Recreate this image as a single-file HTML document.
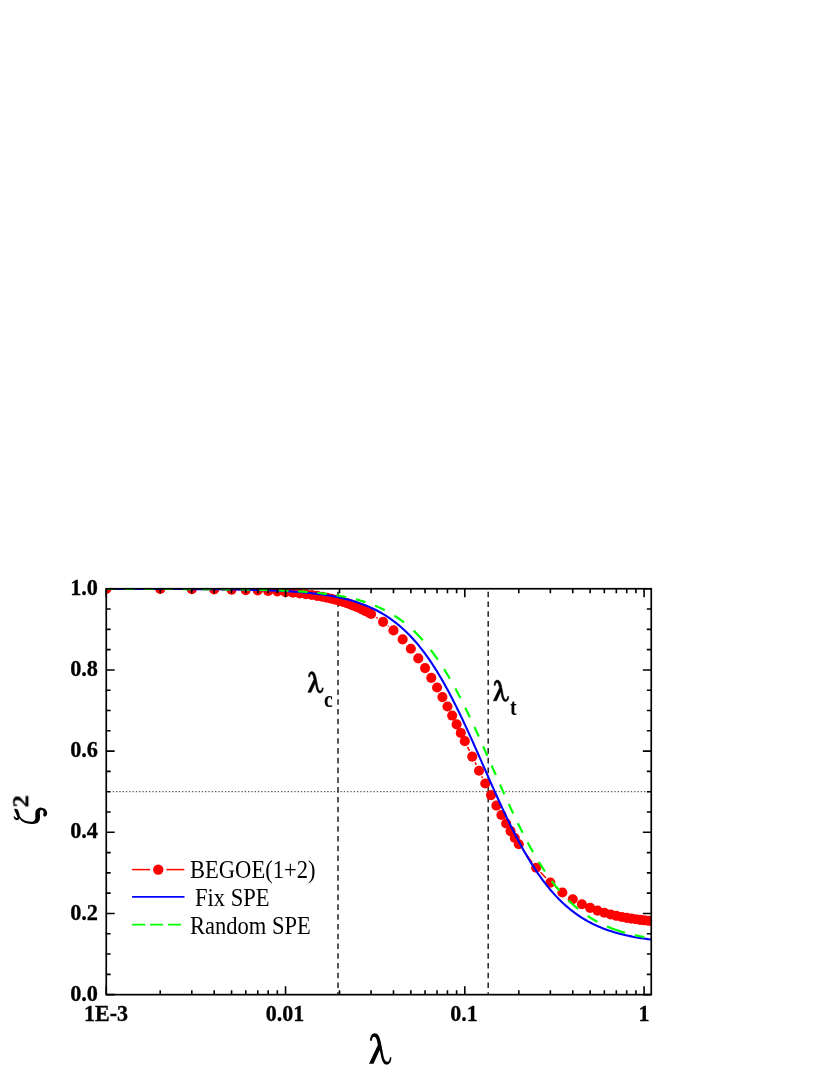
<!DOCTYPE html><html><head><meta charset="utf-8"><title>chart</title><style>
html,body{margin:0;padding:0;background:#fff;}
body{width:830px;height:1075px;position:relative;overflow:hidden;font-family:"Liberation Serif",serif;color:#000;}
.t{position:absolute;white-space:nowrap;line-height:1;will-change:transform;}
.yl{font-weight:bold;font-size:22.3px;text-align:right;width:60px;left:37.6px;transform:scaleY(1.06);transform-origin:50% 50%;-webkit-text-stroke:0.3px #000;}
.xl{font-weight:bold;font-size:22.0px;text-align:center;width:80px;transform:scaleY(1.09);transform-origin:50% 50%;-webkit-text-stroke:0.3px #000;}
.lg{font-size:22.55px;transform:scaleY(1.08);transform-origin:0 50%;}
.sb{font-weight:bold;font-size:19.8px;transform:scaleY(1.12);transform-origin:0 50%;}
</style></head><body>
<svg width="830" height="1075" viewBox="0 0 830 1075" style="position:absolute;left:0;top:0">
<defs><clipPath id="cp"><rect x="106.25" y="588.75" width="545.00" height="405.90"/></clipPath></defs>
<line x1="112.70" y1="791.70" x2="651.25" y2="791.70" stroke="#3a3a3a" stroke-width="1" stroke-dasharray="1.4 1.9"/>
<line x1="338.00" y1="588.75" x2="338.00" y2="994.65" stroke="#222" stroke-width="1.5" stroke-dasharray="5.6 4.17" stroke-dashoffset="6.8"/>
<line x1="488.20" y1="588.75" x2="488.20" y2="994.65" stroke="#222" stroke-width="1.5" stroke-dasharray="5.6 4.17" stroke-dashoffset="6.8"/>
<g clip-path="url(#cp)">
<line x1="112.61" y1="588.95" x2="153.88" y2="589.03" stroke="#f00" stroke-width="1.5"/>
<line x1="166.58" y1="589.08" x2="185.45" y2="589.18" stroke="#f00" stroke-width="1.5"/>
<line x1="198.15" y1="589.28" x2="207.85" y2="589.38" stroke="#f00" stroke-width="1.5"/>
<line x1="220.55" y1="589.56" x2="225.22" y2="589.64" stroke="#f00" stroke-width="1.5"/>
<line x1="237.92" y1="589.91" x2="239.42" y2="589.94" stroke="#f00" stroke-width="1.5"/>
<line x1="376.39" y1="617.48" x2="377.77" y2="618.38" stroke="#f00" stroke-width="1.5"/>
<line x1="387.99" y1="625.89" x2="388.56" y2="626.35" stroke="#f00" stroke-width="1.5"/>
<line x1="467.57" y1="746.88" x2="469.49" y2="750.87" stroke="#f00" stroke-width="1.5"/>
<line x1="474.99" y1="762.32" x2="476.27" y2="764.98" stroke="#f00" stroke-width="1.5"/>
<line x1="481.79" y1="776.41" x2="482.47" y2="777.80" stroke="#f00" stroke-width="1.5"/>
<line x1="522.57" y1="849.39" x2="532.38" y2="862.64" stroke="#f00" stroke-width="1.5"/>
<line x1="540.55" y1="872.34" x2="545.97" y2="878.02" stroke="#f00" stroke-width="1.5"/>
<line x1="555.26" y1="886.64" x2="557.45" y2="888.44" stroke="#f00" stroke-width="1.5"/>
<circle cx="106.26" cy="588.94" r="5.05" fill="#f00"/>
<circle cx="160.23" cy="589.04" r="5.05" fill="#f00"/>
<circle cx="191.80" cy="589.22" r="5.05" fill="#f00"/>
<circle cx="214.20" cy="589.45" r="5.05" fill="#f00"/>
<circle cx="231.57" cy="589.75" r="5.05" fill="#f00"/>
<circle cx="245.77" cy="590.10" r="5.05" fill="#f00"/>
<circle cx="257.77" cy="590.52" r="5.05" fill="#f00"/>
<circle cx="268.17" cy="590.99" r="5.05" fill="#f00"/>
<circle cx="277.34" cy="591.52" r="5.05" fill="#f00"/>
<circle cx="285.54" cy="592.11" r="5.05" fill="#f00"/>
<circle cx="292.96" cy="592.75" r="5.05" fill="#f00"/>
<circle cx="299.74" cy="593.45" r="5.05" fill="#f00"/>
<circle cx="305.97" cy="594.20" r="5.05" fill="#f00"/>
<circle cx="311.74" cy="595.00" r="5.05" fill="#f00"/>
<circle cx="317.11" cy="595.85" r="5.05" fill="#f00"/>
<circle cx="322.13" cy="596.75" r="5.05" fill="#f00"/>
<circle cx="326.85" cy="597.71" r="5.05" fill="#f00"/>
<circle cx="331.31" cy="598.71" r="5.05" fill="#f00"/>
<circle cx="335.51" cy="599.75" r="5.05" fill="#f00"/>
<circle cx="339.51" cy="600.84" r="5.05" fill="#f00"/>
<circle cx="343.31" cy="601.98" r="5.05" fill="#f00"/>
<circle cx="346.93" cy="603.16" r="5.05" fill="#f00"/>
<circle cx="350.39" cy="604.38" r="5.05" fill="#f00"/>
<circle cx="353.70" cy="605.64" r="5.05" fill="#f00"/>
<circle cx="356.88" cy="606.94" r="5.05" fill="#f00"/>
<circle cx="359.94" cy="608.28" r="5.05" fill="#f00"/>
<circle cx="362.87" cy="609.66" r="5.05" fill="#f00"/>
<circle cx="365.71" cy="611.07" r="5.05" fill="#f00"/>
<circle cx="368.44" cy="612.52" r="5.05" fill="#f00"/>
<circle cx="371.08" cy="614.00" r="5.05" fill="#f00"/>
<circle cx="383.08" cy="621.86" r="5.05" fill="#f00"/>
<circle cx="393.48" cy="630.38" r="5.05" fill="#f00"/>
<circle cx="402.65" cy="639.39" r="5.05" fill="#f00"/>
<circle cx="410.85" cy="648.77" r="5.05" fill="#f00"/>
<circle cx="418.27" cy="658.38" r="5.05" fill="#f00"/>
<circle cx="425.05" cy="668.12" r="5.05" fill="#f00"/>
<circle cx="431.28" cy="677.87" r="5.05" fill="#f00"/>
<circle cx="437.05" cy="687.55" r="5.05" fill="#f00"/>
<circle cx="442.42" cy="697.10" r="5.05" fill="#f00"/>
<circle cx="447.45" cy="706.46" r="5.05" fill="#f00"/>
<circle cx="452.17" cy="715.57" r="5.05" fill="#f00"/>
<circle cx="456.62" cy="724.40" r="5.05" fill="#f00"/>
<circle cx="460.83" cy="732.94" r="5.05" fill="#f00"/>
<circle cx="464.82" cy="741.15" r="5.05" fill="#f00"/>
<circle cx="472.24" cy="756.60" r="5.05" fill="#f00"/>
<circle cx="479.02" cy="770.70" r="5.05" fill="#f00"/>
<circle cx="485.25" cy="783.51" r="5.05" fill="#f00"/>
<circle cx="491.02" cy="795.10" r="5.05" fill="#f00"/>
<circle cx="496.39" cy="805.56" r="5.05" fill="#f00"/>
<circle cx="501.41" cy="814.99" r="5.05" fill="#f00"/>
<circle cx="506.13" cy="823.48" r="5.05" fill="#f00"/>
<circle cx="510.59" cy="831.14" r="5.05" fill="#f00"/>
<circle cx="514.79" cy="838.04" r="5.05" fill="#f00"/>
<circle cx="518.79" cy="844.28" r="5.05" fill="#f00"/>
<circle cx="536.16" cy="867.75" r="5.05" fill="#f00"/>
<circle cx="550.36" cy="882.61" r="5.05" fill="#f00"/>
<circle cx="562.36" cy="892.47" r="5.05" fill="#f00"/>
<circle cx="572.76" cy="899.30" r="5.05" fill="#f00"/>
<circle cx="581.93" cy="904.21" r="5.05" fill="#f00"/>
<circle cx="590.13" cy="907.84" r="5.05" fill="#f00"/>
<circle cx="597.55" cy="910.60" r="5.05" fill="#f00"/>
<circle cx="604.33" cy="912.75" r="5.05" fill="#f00"/>
<circle cx="610.56" cy="914.44" r="5.05" fill="#f00"/>
<circle cx="616.33" cy="915.81" r="5.05" fill="#f00"/>
<circle cx="621.70" cy="916.93" r="5.05" fill="#f00"/>
<circle cx="626.73" cy="917.85" r="5.05" fill="#f00"/>
<circle cx="631.45" cy="918.62" r="5.05" fill="#f00"/>
<circle cx="635.90" cy="919.28" r="5.05" fill="#f00"/>
<circle cx="640.11" cy="919.83" r="5.05" fill="#f00"/>
<circle cx="644.10" cy="920.31" r="5.05" fill="#f00"/>
<circle cx="647.90" cy="920.73" r="5.05" fill="#f00"/>
<circle cx="651.52" cy="921.09" r="5.05" fill="#f00"/>
<path d="M106.00 588.92 L107.37 588.92 L108.74 588.92 L110.10 588.92 L111.47 588.93 L112.84 588.93 L114.21 588.93 L115.57 588.93 L116.94 588.93 L118.31 588.93 L119.68 588.93 L121.05 588.93 L122.41 588.93 L123.78 588.94 L125.15 588.94 L126.52 588.94 L127.88 588.94 L129.25 588.94 L130.62 588.94 L131.99 588.94 L133.36 588.95 L134.72 588.95 L136.09 588.95 L137.46 588.95 L138.83 588.95 L140.19 588.95 L141.56 588.96 L142.93 588.96 L144.30 588.96 L145.67 588.96 L147.03 588.96 L148.40 588.97 L149.77 588.97 L151.14 588.97 L152.51 588.97 L153.87 588.98 L155.24 588.98 L156.61 588.98 L157.98 588.98 L159.34 588.99 L160.71 588.99 L162.08 588.99 L163.45 589.00 L164.82 589.00 L166.18 589.00 L167.55 589.01 L168.92 589.01 L170.29 589.02 L171.65 589.02 L173.02 589.02 L174.39 589.03 L175.76 589.03 L177.13 589.04 L178.49 589.04 L179.86 589.05 L181.23 589.05 L182.60 589.06 L183.96 589.06 L185.33 589.07 L186.70 589.08 L188.07 589.08 L189.44 589.09 L190.80 589.10 L192.17 589.10 L193.54 589.11 L194.91 589.12 L196.27 589.13 L197.64 589.13 L199.01 589.14 L200.38 589.15 L201.75 589.16 L203.11 589.17 L204.48 589.18 L205.85 589.19 L207.22 589.20 L208.58 589.21 L209.95 589.22 L211.32 589.23 L212.69 589.24 L214.06 589.26 L215.42 589.27 L216.79 589.28 L218.16 589.30 L219.53 589.31 L220.89 589.32 L222.26 589.34 L223.63 589.35 L225.00 589.37 L226.37 589.39 L227.73 589.40 L229.10 589.42 L230.47 589.44 L231.84 589.46 L233.20 589.48 L234.57 589.50 L235.94 589.52 L237.31 589.54 L238.68 589.57 L240.04 589.59 L241.41 589.62 L242.78 589.64 L244.15 589.67 L245.52 589.70 L246.88 589.72 L248.25 589.75 L249.62 589.78 L250.99 589.81 L252.35 589.85 L253.72 589.88 L255.09 589.92 L256.46 589.95 L257.83 589.99 L259.19 590.03 L260.56 590.07 L261.93 590.11 L263.30 590.15 L264.66 590.20 L266.03 590.24 L267.40 590.29 L268.77 590.34 L270.14 590.39 L271.50 590.44 L272.87 590.50 L274.24 590.56 L275.61 590.61 L276.97 590.68 L278.34 590.74 L279.71 590.80 L281.08 590.87 L282.45 590.94 L283.81 591.01 L285.18 591.09 L286.55 591.17 L287.92 591.25 L289.28 591.33 L290.65 591.41 L292.02 591.50 L293.39 591.60 L294.76 591.69 L296.12 591.79 L297.49 591.89 L298.86 592.00 L300.23 592.11 L301.59 592.22 L302.96 592.34 L304.33 592.46 L305.70 592.58 L307.07 592.71 L308.43 592.85 L309.80 592.99 L311.17 593.13 L312.54 593.28 L313.90 593.44 L315.27 593.59 L316.64 593.76 L318.01 593.93 L319.38 594.11 L320.74 594.29 L322.11 594.48 L323.48 594.67 L324.85 594.88 L326.21 595.09 L327.58 595.30 L328.95 595.53 L330.32 595.76 L331.69 596.00 L333.05 596.25 L334.42 596.50 L335.79 596.77 L337.16 597.04 L338.53 597.33 L339.89 597.62 L341.26 597.92 L342.63 598.23 L344.00 598.56 L345.36 598.89 L346.73 599.24 L348.10 599.60 L349.47 599.97 L350.84 600.35 L352.20 600.74 L353.57 601.15 L354.94 601.57 L356.31 602.01 L357.67 602.45 L359.04 602.92 L360.41 603.40 L361.78 603.89 L363.15 604.40 L364.51 604.93 L365.88 605.48 L367.25 606.04 L368.62 606.62 L369.98 607.22 L371.35 607.84 L372.72 608.48 L374.09 609.13 L375.46 609.81 L376.82 610.51 L378.19 611.24 L379.56 611.98 L380.93 612.75 L382.29 613.54 L383.66 614.35 L385.03 615.19 L386.40 616.06 L387.77 616.95 L389.13 617.87 L390.50 618.82 L391.87 619.79 L393.24 620.79 L394.60 621.82 L395.97 622.89 L397.34 623.98 L398.71 625.10 L400.08 626.26 L401.44 627.44 L402.81 628.66 L404.18 629.92 L405.55 631.21 L406.91 632.53 L408.28 633.89 L409.65 635.28 L411.02 636.71 L412.39 638.18 L413.75 639.69 L415.12 641.23 L416.49 642.81 L417.86 644.44 L419.22 646.10 L420.59 647.80 L421.96 649.54 L423.33 651.32 L424.70 653.15 L426.06 655.01 L427.43 656.92 L428.80 658.86 L430.17 660.85 L431.54 662.88 L432.90 664.96 L434.27 667.07 L435.64 669.23 L437.01 671.43 L438.37 673.67 L439.74 675.95 L441.11 678.27 L442.48 680.64 L443.85 683.04 L445.21 685.49 L446.58 687.97 L447.95 690.49 L449.32 693.05 L450.68 695.65 L452.05 698.28 L453.42 700.95 L454.79 703.66 L456.16 706.40 L457.52 709.17 L458.89 711.97 L460.26 714.81 L461.63 717.67 L462.99 720.56 L464.36 723.48 L465.73 726.42 L467.10 729.38 L468.47 732.37 L469.83 735.38 L471.20 738.40 L472.57 741.44 L473.94 744.50 L475.30 747.57 L476.67 750.65 L478.04 753.75 L479.41 756.85 L480.78 759.95 L482.14 763.06 L483.51 766.18 L484.88 769.29 L486.25 772.40 L487.61 775.51 L488.98 778.61 L490.35 781.70 L491.72 784.79 L493.09 787.86 L494.45 790.92 L495.82 793.97 L497.19 797.00 L498.56 800.01 L499.92 803.01 L501.29 805.98 L502.66 808.93 L504.03 811.85 L505.40 814.75 L506.76 817.62 L508.13 820.46 L509.50 823.27 L510.87 826.05 L512.23 828.80 L513.60 831.52 L514.97 834.20 L516.34 836.84 L517.71 839.45 L519.07 842.02 L520.44 844.56 L521.81 847.05 L523.18 849.51 L524.55 851.92 L525.91 854.30 L527.28 856.63 L528.65 858.93 L530.02 861.18 L531.38 863.39 L532.75 865.56 L534.12 867.69 L535.49 869.77 L536.86 871.81 L538.22 873.82 L539.59 875.77 L540.96 877.69 L542.33 879.57 L543.69 881.40 L545.06 883.20 L546.43 884.95 L547.80 886.66 L549.17 888.34 L550.53 889.97 L551.90 891.56 L553.27 893.12 L554.64 894.64 L556.00 896.11 L557.37 897.56 L558.74 898.96 L560.11 900.33 L561.48 901.66 L562.84 902.96 L564.21 904.23 L565.58 905.46 L566.95 906.65 L568.31 907.82 L569.68 908.95 L571.05 910.05 L572.42 911.12 L573.79 912.16 L575.15 913.17 L576.52 914.15 L577.89 915.11 L579.26 916.03 L580.62 916.93 L581.99 917.81 L583.36 918.65 L584.73 919.48 L586.10 920.27 L587.46 921.05 L588.83 921.80 L590.20 922.53 L591.57 923.23 L592.93 923.92 L594.30 924.58 L595.67 925.23 L597.04 925.85 L598.41 926.46 L599.77 927.04 L601.14 927.61 L602.51 928.16 L603.88 928.69 L605.24 929.21 L606.61 929.71 L607.98 930.19 L609.35 930.66 L610.72 931.11 L612.08 931.55 L613.45 931.98 L614.82 932.39 L616.19 932.79 L617.56 933.17 L618.92 933.55 L620.29 933.91 L621.66 934.26 L623.03 934.59 L624.39 934.92 L625.76 935.24 L627.13 935.54 L628.50 935.84 L629.87 936.12 L631.23 936.40 L632.60 936.67 L633.97 936.93 L635.34 937.18 L636.70 937.42 L638.07 937.65 L639.44 937.88 L640.81 938.10 L642.18 938.31 L643.54 938.51 L644.91 938.71 L646.28 938.90 L647.65 939.09 L649.01 939.27 L650.38 939.44 L651.75 939.61" fill="none" stroke="#00f" stroke-width="2.1"/>
<path d="M106.00 588.92 L106.73 588.92 L107.46 588.92 L108.18 588.92 L108.91 588.92 L109.64 588.92 L110.37 588.92 L111.09 588.92 L111.82 588.92 L112.55 588.92 L113.28 588.92 L114.01 588.92 L114.73 588.92 L115.10 588.92" fill="none" stroke="#0f0" stroke-width="2.2"/>
<path d="M124.65 588.93 L125.38 588.93 L126.11 588.93 L126.83 588.93 L127.56 588.93 L128.29 588.93 L129.02 588.93 L129.74 588.93 L130.47 588.93 L131.20 588.93 L131.93 588.93 L132.66 588.93 L133.38 588.94 L134.11 588.94 L134.38 588.94" fill="none" stroke="#0f0" stroke-width="2.2"/>
<path d="M143.94 588.95 L144.66 588.95 L145.39 588.95 L146.12 588.95 L146.85 588.95 L147.57 588.95 L148.30 588.95 L149.03 588.95 L149.76 588.95 L150.49 588.96 L151.21 588.96 L151.94 588.96 L152.67 588.96 L153.40 588.96 L153.67 588.96" fill="none" stroke="#0f0" stroke-width="2.2"/>
<path d="M163.22 588.98 L163.95 588.98 L164.68 588.98 L165.41 588.98 L166.13 588.98 L166.86 588.98 L167.59 588.99 L168.32 588.99 L169.04 588.99 L169.77 588.99 L170.50 588.99 L171.23 588.99 L171.96 589.00 L172.68 589.00 L172.87 589.00" fill="none" stroke="#0f0" stroke-width="2.2"/>
<path d="M182.42 589.03 L183.15 589.03 L183.87 589.03 L184.60 589.03 L185.33 589.04 L186.06 589.04 L186.78 589.04 L187.51 589.04 L188.24 589.05 L188.97 589.05 L189.70 589.05 L190.42 589.05 L191.15 589.06 L191.88 589.06 L192.15 589.06" fill="none" stroke="#0f0" stroke-width="2.2"/>
<path d="M201.70 589.11 L202.43 589.11 L203.16 589.11 L203.89 589.12 L204.62 589.12 L205.34 589.13 L206.07 589.13 L206.80 589.13 L207.53 589.14 L208.25 589.14 L208.98 589.15 L209.71 589.15 L210.44 589.16 L211.17 589.16 L211.44 589.16" fill="none" stroke="#0f0" stroke-width="2.2"/>
<path d="M220.99 589.24 L221.72 589.24 L222.45 589.25 L223.17 589.26 L223.90 589.26 L224.63 589.27 L225.36 589.28 L226.09 589.28 L226.81 589.29 L227.54 589.30 L228.27 589.31 L229.00 589.31 L229.72 589.32 L230.45 589.33 L230.63 589.33" fill="none" stroke="#0f0" stroke-width="2.2"/>
<path d="M240.19 589.45 L240.91 589.46 L241.64 589.47 L242.37 589.48 L243.10 589.49 L243.82 589.51 L244.55 589.52 L245.28 589.53 L246.01 589.54 L246.74 589.55 L247.46 589.57 L248.19 589.58 L248.92 589.59 L249.65 589.60 L249.92 589.61" fill="none" stroke="#0f0" stroke-width="2.2"/>
<path d="M259.47 589.80 L260.20 589.82 L260.93 589.84 L261.66 589.86 L262.38 589.87 L263.11 589.89 L263.84 589.91 L264.57 589.93 L265.29 589.95 L266.02 589.97 L266.75 589.99 L267.48 590.01 L268.21 590.03 L268.93 590.05 L269.21 590.06" fill="none" stroke="#0f0" stroke-width="2.2"/>
<path d="M278.76 590.38 L279.49 590.41 L280.21 590.44 L280.94 590.47 L281.67 590.50 L282.40 590.53 L283.13 590.56 L283.85 590.59 L284.58 590.62 L285.31 590.65 L286.04 590.68 L286.76 590.72 L287.49 590.75 L288.22 590.79 L288.49 590.80" fill="none" stroke="#0f0" stroke-width="2.2"/>
<path d="M298.05 591.32 L298.77 591.37 L299.50 591.42 L300.23 591.46 L300.96 591.51 L301.68 591.56 L302.41 591.61 L303.14 591.66 L303.87 591.71 L304.60 591.77 L305.32 591.82 L306.05 591.87 L306.78 591.93 L307.51 591.99 L307.69 592.00" fill="none" stroke="#0f0" stroke-width="2.2"/>
<path d="M317.24 592.85 L317.97 592.93 L318.70 593.00 L319.42 593.08 L320.15 593.15 L320.88 593.23 L321.61 593.31 L322.33 593.40 L323.06 593.48 L323.79 593.57 L324.52 593.65 L325.25 593.74 L325.97 593.83 L326.70 593.92 L326.97 593.96" fill="none" stroke="#0f0" stroke-width="2.2"/>
<path d="M336.53 595.34 L337.25 595.46 L337.98 595.58 L338.71 595.70 L339.44 595.83 L340.17 595.95 L340.89 596.08 L341.62 596.22 L342.35 596.35 L343.08 596.49 L343.80 596.63 L344.53 596.77 L345.26 596.92 L345.99 597.07 L346.26 597.12" fill="none" stroke="#0f0" stroke-width="2.2"/>
<path d="M355.81 599.34 L356.54 599.53 L357.27 599.72 L358.00 599.92 L358.72 600.12 L359.45 600.33 L360.18 600.54 L360.91 600.75 L361.64 600.96 L362.36 601.18 L363.09 601.41 L363.82 601.63 L364.55 601.87 L365.27 602.10 L365.46 602.16" fill="none" stroke="#0f0" stroke-width="2.2"/>
<path d="M375.01 605.67 L375.74 605.97 L376.46 606.28 L377.19 606.59 L377.92 606.91 L378.65 607.23 L379.38 607.56 L380.10 607.89 L380.83 608.23 L381.56 608.57 L382.29 608.92 L383.01 609.28 L383.74 609.64 L384.47 610.01 L384.74 610.15" fill="none" stroke="#0f0" stroke-width="2.2"/>
<path d="M394.30 615.61 L395.02 616.07 L395.75 616.55 L396.48 617.03 L397.21 617.51 L397.93 618.01 L398.66 618.51 L399.39 619.02 L400.12 619.54 L400.85 620.07 L401.57 620.60 L402.30 621.15 L403.03 621.70 L403.76 622.26 L404.03 622.47" fill="none" stroke="#0f0" stroke-width="2.2"/>
<path d="M413.58 630.70 L414.31 631.40 L415.04 632.10 L415.76 632.81 L416.49 633.54 L417.22 634.27 L417.95 635.02 L418.68 635.77 L419.40 636.54 L420.13 637.31 L420.86 638.10 L421.59 638.90 L422.31 639.70 L422.86 640.32" fill="none" stroke="#0f0" stroke-width="2.2"/>
<path d="M430.78 649.91 L431.50 650.86 L432.23 651.82 L432.96 652.79 L433.69 653.78 L434.41 654.78 L435.14 655.78 L435.87 656.80 L436.60 657.84 L437.33 658.88 L437.78 659.54" fill="none" stroke="#0f0" stroke-width="2.2"/>
<path d="M444.06 669.10 L444.79 670.26 L445.51 671.44 L446.24 672.63 L446.97 673.83 L447.70 675.05 L448.42 676.27 L449.15 677.51 L449.88 678.76 L449.88 678.76" fill="none" stroke="#0f0" stroke-width="2.2"/>
<path d="M455.34 688.48 L456.07 689.83 L456.79 691.18 L457.52 692.55 L458.25 693.92 L458.98 695.31 L459.70 696.71 L460.43 698.11 L460.43 698.11" fill="none" stroke="#0f0" stroke-width="2.2"/>
<path d="M465.25 707.69 L465.98 709.17 L466.71 710.66 L467.44 712.16 L468.17 713.67 L468.89 715.19 L469.62 716.71 L469.89 717.28" fill="none" stroke="#0f0" stroke-width="2.2"/>
<path d="M474.44 727.00 L475.17 728.58 L475.90 730.17 L476.63 731.76 L477.35 733.36 L478.08 734.96 L478.81 736.57 L478.81 736.57" fill="none" stroke="#0f0" stroke-width="2.2"/>
<path d="M483.18 746.32 L483.90 747.96 L484.63 749.61 L485.36 751.25 L486.09 752.90 L486.82 754.55 L487.36 755.79" fill="none" stroke="#0f0" stroke-width="2.2"/>
<path d="M491.64 765.52 L492.36 767.18 L493.09 768.84 L493.82 770.50 L494.55 772.15 L495.28 773.81 L495.82 775.05" fill="none" stroke="#0f0" stroke-width="2.2"/>
<path d="M500.10 784.74 L500.82 786.38 L501.55 788.02 L502.28 789.65 L503.01 791.28 L503.74 792.90 L504.37 794.32" fill="none" stroke="#0f0" stroke-width="2.2"/>
<path d="M508.74 803.93 L509.47 805.51 L510.20 807.09 L510.92 808.66 L511.65 810.22 L512.38 811.77 L513.11 813.32 L513.20 813.51" fill="none" stroke="#0f0" stroke-width="2.2"/>
<path d="M517.84 823.18 L518.56 824.67 L519.29 826.15 L520.02 827.61 L520.75 829.07 L521.48 830.52 L522.20 831.96 L522.66 832.85" fill="none" stroke="#0f0" stroke-width="2.2"/>
<path d="M527.75 842.59 L528.48 843.94 L529.21 845.28 L529.94 846.60 L530.66 847.92 L531.39 849.22 L532.12 850.52 L532.85 851.80 L533.03 852.12" fill="none" stroke="#0f0" stroke-width="2.2"/>
<path d="M538.76 861.78 L539.49 862.96 L540.22 864.12 L540.94 865.27 L541.67 866.41 L542.40 867.54 L543.13 868.66 L543.86 869.76 L544.58 870.85 L544.95 871.39" fill="none" stroke="#0f0" stroke-width="2.2"/>
<path d="M551.77 881.00 L552.50 881.96 L553.23 882.91 L553.95 883.85 L554.68 884.78 L555.41 885.70 L556.14 886.61 L556.86 887.50 L557.59 888.38 L558.32 889.25 L559.05 890.11 L559.50 890.65" fill="none" stroke="#0f0" stroke-width="2.2"/>
<path d="M568.42 900.23 L569.15 900.94 L569.87 901.64 L570.60 902.34 L571.33 903.02 L572.06 903.69 L572.79 904.36 L573.51 905.01 L574.24 905.66 L574.97 906.29 L575.70 906.92 L576.42 907.54 L577.15 908.14 L577.88 908.74 L578.15 908.97" fill="none" stroke="#0f0" stroke-width="2.2"/>
<path d="M587.70 916.00 L588.43 916.48 L589.16 916.95 L589.89 917.41 L590.62 917.87 L591.34 918.32 L592.07 918.76 L592.80 919.20 L593.53 919.63 L594.25 920.05 L594.98 920.47 L595.71 920.88 L596.44 921.28 L597.17 921.67 L597.44 921.82" fill="none" stroke="#0f0" stroke-width="2.2"/>
<path d="M606.99 926.42 L607.72 926.73 L608.45 927.04 L609.17 927.34 L609.90 927.63 L610.63 927.92 L611.36 928.21 L612.09 928.49 L612.81 928.77 L613.54 929.04 L614.27 929.31 L615.00 929.57 L615.72 929.83 L616.45 930.08 L617.18 930.33 L617.91 930.57 L618.64 930.81 L619.36 931.05 L620.09 931.28 L620.82 931.51 L621.55 931.74 L622.27 931.96 L623.00 932.17 L623.73 932.39 L624.46 932.60 L625.09 932.78" fill="none" stroke="#0f0" stroke-width="2.2"/>
<path d="M634.65 935.17 L635.37 935.34 L636.10 935.49 L636.83 935.65 L637.56 935.80 L638.29 935.95 L639.01 936.10 L639.74 936.24 L640.47 936.39 L641.20 936.52 L641.92 936.66 L642.65 936.80 L643.38 936.93 L644.11 937.06 L644.38 937.11" fill="none" stroke="#0f0" stroke-width="2.2"/>
</g>
<path d="M106.25 994.65h8.40M651.25 994.65h-8.40M106.25 974.36h4.40M651.25 974.36h-4.40M106.25 954.06h4.40M651.25 954.06h-4.40M106.25 933.76h4.40M651.25 933.76h-4.40M106.25 913.47h8.40M651.25 913.47h-8.40M106.25 893.17h4.40M651.25 893.17h-4.40M106.25 872.88h4.40M651.25 872.88h-4.40M106.25 852.58h4.40M651.25 852.58h-4.40M106.25 832.29h8.40M651.25 832.29h-8.40M106.25 812.00h4.40M651.25 812.00h-4.40M106.25 791.70h4.40M651.25 791.70h-4.40M106.25 771.40h4.40M651.25 771.40h-4.40M106.25 751.11h8.40M651.25 751.11h-8.40M106.25 730.81h4.40M651.25 730.81h-4.40M106.25 710.52h4.40M651.25 710.52h-4.40M106.25 690.23h4.40M651.25 690.23h-4.40M106.25 669.93h8.40M651.25 669.93h-8.40M106.25 649.63h4.40M651.25 649.63h-4.40M106.25 629.34h4.40M651.25 629.34h-4.40M106.25 609.04h4.40M651.25 609.04h-4.40M106.25 588.75h8.40M651.25 588.75h-8.40M106.26 994.65v-8.40M106.26 588.75v8.40M160.23 994.65v-4.40M160.23 588.75v4.40M191.80 994.65v-4.40M191.80 588.75v4.40M214.20 994.65v-4.40M214.20 588.75v4.40M231.57 994.65v-4.40M231.57 588.75v4.40M245.77 994.65v-4.40M245.77 588.75v4.40M257.77 994.65v-4.40M257.77 588.75v4.40M268.17 994.65v-4.40M268.17 588.75v4.40M277.34 994.65v-4.40M277.34 588.75v4.40M285.54 994.65v-8.40M285.54 588.75v8.40M339.51 994.65v-4.40M339.51 588.75v4.40M371.08 994.65v-4.40M371.08 588.75v4.40M393.48 994.65v-4.40M393.48 588.75v4.40M410.85 994.65v-4.40M410.85 588.75v4.40M425.05 994.65v-4.40M425.05 588.75v4.40M437.05 994.65v-4.40M437.05 588.75v4.40M447.45 994.65v-4.40M447.45 588.75v4.40M456.62 994.65v-4.40M456.62 588.75v4.40M464.82 994.65v-8.40M464.82 588.75v8.40M518.79 994.65v-4.40M518.79 588.75v4.40M550.36 994.65v-4.40M550.36 588.75v4.40M572.76 994.65v-4.40M572.76 588.75v4.40M590.13 994.65v-4.40M590.13 588.75v4.40M604.33 994.65v-4.40M604.33 588.75v4.40M616.33 994.65v-4.40M616.33 588.75v4.40M626.73 994.65v-4.40M626.73 588.75v4.40M635.90 994.65v-4.40M635.90 588.75v4.40M644.10 994.65v-8.40M644.10 588.75v8.40" fill="none" stroke="#000" stroke-width="1.6"/>
<rect x="106.25" y="588.75" width="545.00" height="405.90" fill="none" stroke="#000" stroke-width="1.7"/>
<line x1="131.9" y1="869.6" x2="150.1" y2="869.6" stroke="#f00" stroke-width="1.5"/>
<line x1="166.4" y1="869.6" x2="184.3" y2="869.6" stroke="#f00" stroke-width="1.5"/>
<circle cx="158.25" cy="869.6" r="5.2" fill="#f00"/>
<line x1="132.1" y1="896.9" x2="184.5" y2="896.9" stroke="#00f" stroke-width="1.9"/>
<line x1="132.1" y1="924.6" x2="184.5" y2="924.6" stroke="#0f0" stroke-width="1.9" stroke-dasharray="13.1 4.8"/>
<path d="M276 288 C278 230 300 185 342 183 C385 183 410 230 425 300 L452 440 C465 520 480 578 515 578 C540 578 550 545 552 515 L572 515 C572 570 550 617 508 617 C460 617 440 560 425 480 L412 415 L325 605 L263 605 L385 345 C375 290 365 232 335 232 C312 232 304 258 302 288 Z" fill="#000" transform="translate(350,1020) scale(0.07231)"/>
<path d="M276 288 C278 230 300 185 342 183 C385 183 410 230 425 300 L452 440 C465 520 480 578 515 578 C540 578 550 545 552 515 L572 515 C572 570 550 617 508 617 C460 617 440 560 425 480 L412 415 L325 605 L263 605 L385 345 C375 290 365 232 335 232 C312 232 304 258 302 288 Z" fill="#000" stroke="#000" stroke-width="12.1" stroke-linejoin="round" transform="translate(307.90,671.60) scale(0.04951,0.04908) translate(-263,-183)"/>
<path d="M276 288 C278 230 300 185 342 183 C385 183 410 230 425 300 L452 440 C465 520 480 578 515 578 C540 578 550 545 552 515 L572 515 C572 570 550 617 508 617 C460 617 440 560 425 480 L412 415 L325 605 L263 605 L385 345 C375 290 365 232 335 232 C312 232 304 258 302 288 Z" fill="#000" stroke="#000" stroke-width="12.1" stroke-linejoin="round" transform="translate(493.40,680.10) scale(0.04951,0.04908) translate(-263,-183)"/>
<path d="M14.89 808.76 C15.42 808.65 16.84 808.65 17.54 809.39 C18.25 810.13 18.74 812.09 19.13 813.21 C19.53 814.33 19.40 815.15 19.93 816.13 C20.46 817.10 21.21 818.22 22.32 819.04 C23.42 819.86 25.06 820.61 26.56 821.06 C28.06 821.50 30.09 821.72 31.33 821.69 C32.57 821.67 33.32 821.43 33.98 820.90 C34.64 820.37 35.09 819.62 35.31 818.51 C35.53 817.41 35.22 815.59 35.31 814.27 C35.39 812.94 35.35 811.57 35.84 810.56 C36.32 809.54 37.29 808.66 38.22 808.17 C39.15 807.69 40.26 807.51 41.40 807.64 C42.55 807.77 44.16 808.13 45.12 808.97 C46.07 809.81 46.91 811.57 47.13 812.68 C47.35 813.78 46.82 814.91 46.44 815.59 C46.06 816.28 45.35 816.77 44.85 816.81 C44.35 816.86 43.68 816.28 43.42 815.86 C43.15 815.44 43.22 814.89 43.26 814.27 C43.30 813.65 43.76 812.81 43.63 812.15 C43.50 811.49 42.97 810.60 42.46 810.29 C41.96 809.98 41.05 809.90 40.61 810.29 C40.17 810.69 39.90 811.57 39.81 812.68 C39.72 813.78 40.17 815.59 40.08 816.92 C39.99 818.25 39.86 819.57 39.28 820.63 C38.71 821.69 37.87 822.71 36.63 823.28 C35.39 823.86 33.54 824.08 31.86 824.08 C30.18 824.08 28.24 823.81 26.56 823.28 C24.88 822.75 22.98 821.69 21.79 820.90 C20.59 820.10 19.97 818.69 19.40 818.51 C18.83 818.33 18.91 819.57 18.34 819.84 C17.76 820.10 16.66 820.37 15.95 820.10 C15.25 819.84 14.45 818.91 14.10 818.25 C13.74 817.58 13.70 816.39 13.83 816.13 C13.97 815.86 14.45 816.35 14.89 816.66 C15.33 816.96 16.06 817.89 16.48 817.98 C16.91 818.07 17.54 817.98 17.44 817.19 C17.33 816.39 16.36 814.40 15.85 813.21 C15.33 812.02 14.52 810.77 14.36 810.03 C14.20 809.29 14.36 808.86 14.89 808.76Z" fill="#000"/>
</svg>
<div class="t yl" style="top:982.6px">0.0</div>
<div class="t yl" style="top:901.5px">0.2</div>
<div class="t yl" style="top:820.3px">0.4</div>
<div class="t yl" style="top:739.1px">0.6</div>
<div class="t yl" style="top:657.9px">0.8</div>
<div class="t yl" style="top:576.8px">1.0</div>
<div class="t xl" style="left:65.8px;top:1001.7px">1E-3</div>
<div class="t xl" style="left:245.0px;top:1001.7px">0.01</div>
<div class="t xl" style="left:424.3px;top:1001.7px">0.1</div>
<div class="t xl" style="left:603.6px;top:1001.7px">1</div>
<div class="t lg" style="left:190.1px;top:859.4px">BEGOE(1+2)</div>
<div class="t lg" style="left:195.1px;top:887.1px">Fix SPE</div>
<div class="t lg" style="left:190.1px;top:914.9px">Random SPE</div>
<div class="t" id="z2" style="left:0;top:0;font-size:22.6px;font-weight:bold;transform-origin:0 0;transform:translate(10.2px,807.3px) rotate(-90deg) scaleX(1.08);-webkit-text-stroke:0.3px #000;">2</div>
<div class="t sb" id="sc" style="left:324.0px;top:690.2px">c</div>
<div class="t sb" id="st" style="left:510.0px;top:698.2px">t</div>
</body></html>
